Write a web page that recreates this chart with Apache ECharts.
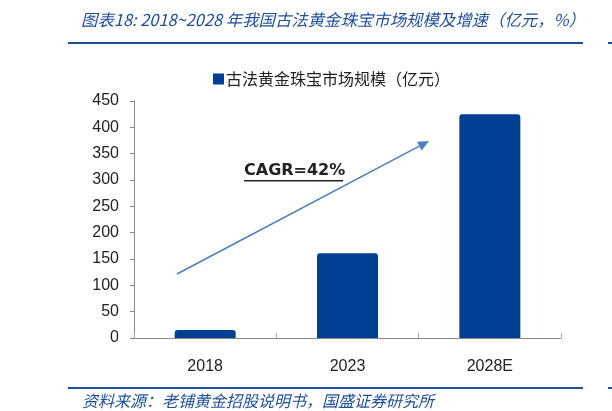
<!DOCTYPE html>
<html>
<head>
<meta charset="utf-8">
<script src="https://cdn.jsdelivr.net/npm/echarts@6/dist/echarts.min.js"></script>
<style>
  html, body { margin: 0; padding: 0; background: #fff; }
  #main { width: 612px; height: 411px; }
</style>
</head>
<body>
<div id="main"></div>
<script>
var categories = ['2018', '2023', '2028E'];
var marketSize = [15, 161, 425];
var yTicks = [0, 50, 100, 150, 200, 250, 300, 350, 400, 450];
var seriesName = '古法黄金珠宝市场规模（亿元）';
var titleText = '图表18: 2018~2028 年我国古法黄金珠宝市场规模及增速（亿元，%）';
var sourceText = '资料来源：老铺黄金招股说明书，国盛证券研究所';
var cagrText = 'CAGR=42%';

var blue = '#003F94';
var lineBlue = '#1F4E9A';
var cjk = '"Noto Sans CJK SC", sans-serif';

// 箭头（注释用）
function arrowParts(x1, y1, x2, y2) {
	var dx = x2 - x1, dy = y2 - y1;
	var len = Math.sqrt(dx * dx + dy * dy);
	var ux = dx / len, uy = dy / len;
	var hl = 11, hw = 5;
	var bx = x2 - ux * hl, by = y2 - uy * hl;
	return [{
		type: 'line',
		shape: { x1: x1, y1: y1, x2: bx, y2: by },
		style: { stroke: '#4A7EC0', lineWidth: 1.5 }
	}, {
		type: 'polygon',
		shape: { points: [[x2, y2], [bx - uy * hw, by + ux * hw], [bx + uy * hw, by - ux * hw]] },
		style: { fill: '#4A7EC0' }
	}];
}

var dom = document.getElementById('main');
var myChart = echarts.init(dom);

var option = {
	animation: false,
	grid: { left: 134, right: 51, top: 101, bottom: 73 },
	legend: {
		left: 208,
		top: 66,
		icon: 'rect',
		itemWidth: 11,
		itemHeight: 11,
		itemGap: 4,
		textStyle: { fontFamily: cjk, fontSize: 16, color: '#222', padding: [0, 0, 0, -3] },
		data: [seriesName]
	},
	xAxis: {
		type: 'category',
		data: categories,
		axisLine: { lineStyle: { color: '#888', width: 1 } },
		axisTick: { show: true, inside: true, length: 5, lineStyle: { color: '#aaa' } },
		axisLabel: { fontFamily: 'Liberation Sans', fontSize: 16, color: '#222', margin: 21 }
	},
	yAxis: {
		type: 'value',
		min: 0,
		max: 450,
		interval: 50,
		splitLine: { show: false },
		axisLine: { show: true, lineStyle: { color: '#888', width: 1 } },
		axisTick: { show: true, length: 4, lineStyle: { color: '#888' } },
		axisLabel: {
			fontFamily: 'Liberation Sans', fontSize: 16, color: '#222', margin: 15,
			formatter: function(v) { return yTicks.indexOf(v) >= 0 ? String(v) : ''; }
		}
	},
	series: [{
		name: seriesName,
		type: 'bar',
		barWidth: 61,
		data: marketSize,
		itemStyle: { color: blue, borderRadius: [3, 3, 0, 0] }
	}],
	graphic: [{
		type: 'text',
		left: 81,
		top: 12,
		style: {
			text: titleText,
			font: 'italic 16.4px ' + cjk,
			fill: lineBlue
		}
	}, {
		type: 'rect',
		shape: { x: 68, y: 42, width: 515, height: 2 },
		style: { fill: lineBlue }
	}, {
		type: 'rect',
		shape: { x: 608, y: 42, width: 4, height: 2 },
		style: { fill: lineBlue }
	}, {
		type: 'rect',
		shape: { x: 68, y: 387, width: 515, height: 2 },
		style: { fill: lineBlue }
	}, {
		type: 'rect',
		shape: { x: 608, y: 387, width: 4, height: 2 },
		style: { fill: lineBlue }
	}, {
		type: 'text',
		left: 82,
		top: 393,
		style: {
			text: sourceText,
			font: 'italic 16px ' + cjk,
			fill: lineBlue
		}
	}, {
		type: 'text',
		left: 244,
		top: 163,
		style: {
			text: cagrText,
			font: 'bold 16px "DejaVu Sans", sans-serif',
			fill: '#222'
		}
	}, {
		type: 'rect',
		shape: { x: 244, y: 180, width: 99, height: 1.5 },
		style: { fill: '#222' }
	}].concat(arrowParts(177, 274, 429, 141))
};

if (option && typeof option === 'object') {
	myChart.setOption(option, true);
}
</script>
</body>
</html>
